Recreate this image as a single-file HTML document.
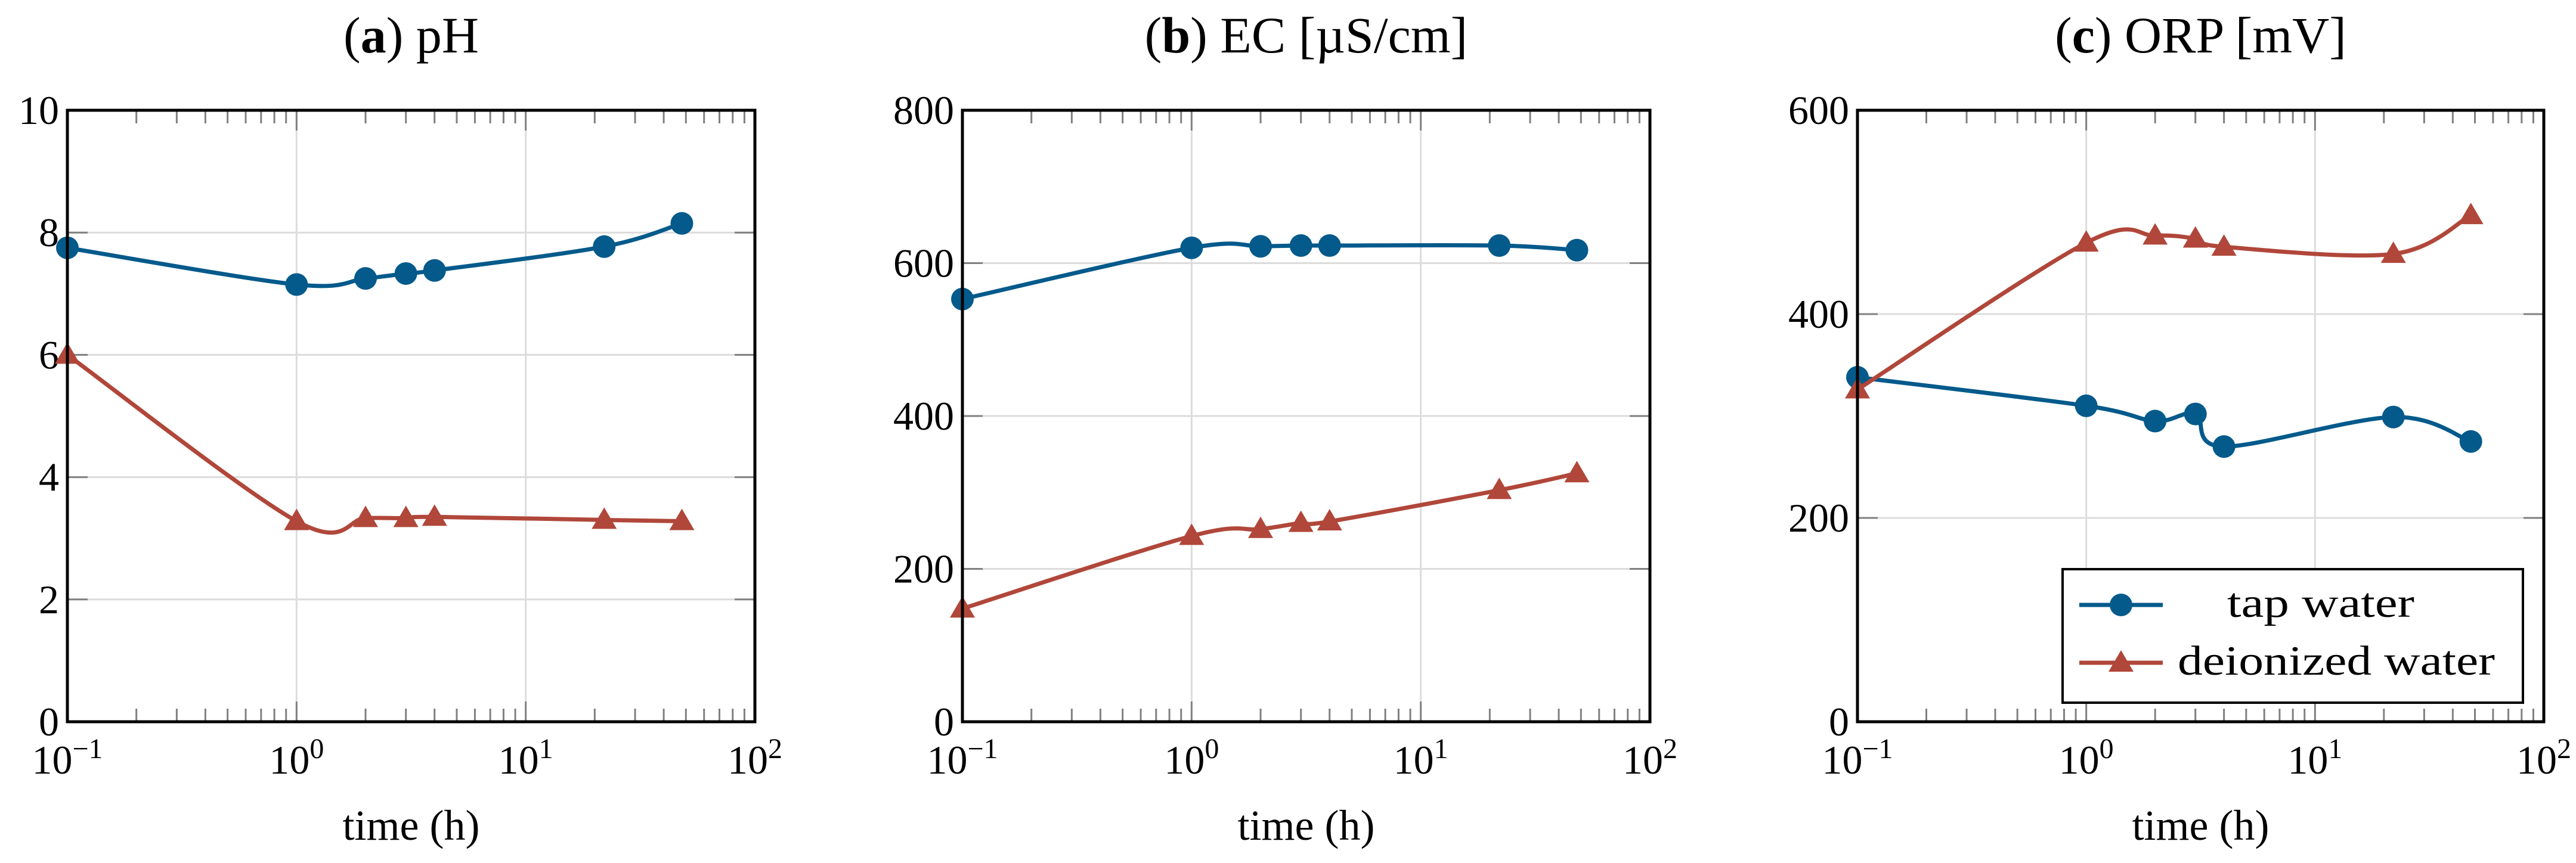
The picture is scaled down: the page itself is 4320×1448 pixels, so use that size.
<!DOCTYPE html>
<html><head><meta charset="utf-8">
<style>
html,body{margin:0;padding:0;background:#fff;}
svg{display:block;font-family:"Liberation Serif",serif;}
</style></head>
<body>
<svg id="fig" width="4320" height="1448" viewBox="0 0 4320 1448" xmlns="http://www.w3.org/2000/svg"></svg>
<script>
const timeHours = [0.1, 1, 2, 3, 4, 22, 48];
const phTap = [7.75, 7.15, 7.25, 7.33, 7.38, 7.77, 8.15];
const phDeion = [6.0, 3.28, 3.33, 3.33, 3.35, 3.30, 3.28];
const ecTap = [553, 620, 622, 623, 623, 623, 617];
const ecDeion = [148, 243, 252, 260, 262, 303, 325];
const orpTap = [338, 310, 295, 302, 270, 299, 275];
const orpDeion = [326, 470, 477, 474, 466, 459, 497];
const phTicks = [0, 2, 4, 6, 8, 10];
const ecTicks = [0, 200, 400, 600, 800];
const orpTicks = [0, 200, 400, 600];
const xDecades = [-1, 0, 1, 2];
const panelTitles = [["a", " pH"], ["b", " EC [µS/cm]"], ["c", " ORP [mV]"]];

const NS = "http://www.w3.org/2000/svg";
const svg = document.getElementById("fig");
const BLUE = "#035a8b", RED = "#b0473a";
function mk(tag, attrs, parent) {
  const e = document.createElementNS(NS, tag);
  for (const k in attrs) e.setAttribute(k, attrs[k]);
  (parent || svg).appendChild(e);
  return e;
}
function spline(pts) {
  const t = 0.5;
  let d = "M" + pts[0][0] + "," + pts[0][1];
  for (let i = 0; i < pts.length - 1; i++) {
    const p0 = pts[i - 1] || pts[i], p1 = pts[i], p2 = pts[i + 1], p3 = pts[i + 2] || p2;
    const c1 = [p1[0] + (p2[0] - p0[0]) * t / 3, p1[1] + (p2[1] - p0[1]) * t / 3];
    const c2 = [p2[0] - (p3[0] - p1[0]) * t / 3, p2[1] - (p3[1] - p1[1]) * t / 3];
    d += " C" + c1 + " " + c2 + " " + p2;
  }
  return d;
}
function panel(idx, left, right, top, bottom, ymax, yTicks, tap, deion) {
  const g = mk("g", {});
  
  
  const xs = v => left + (Math.log10(v) + 1) / 3 * (right - left);
  const ys = v => bottom - v / ymax * (bottom - top);
  xDecades.slice(1, 3).forEach(d => {
    const l = mk("line", {x1: xs(Math.pow(10, d)), x2: xs(Math.pow(10, d)), y1: top, y2: bottom, stroke: "#dcdcdc", "stroke-width": 3}, g);
    
    
  });
  yTicks.forEach(v => {
    if (v > 0 && v < ymax) {
      const l = mk("line", {x1: left, x2: right, y1: ys(v), y2: ys(v), stroke: "#dcdcdc", "stroke-width": 3}, g);
      
      
      mk("line", {x1: left, x2: left + 34, y1: ys(v), y2: ys(v), stroke: "#808080", "stroke-width": 3}, g);
      mk("line", {x1: right - 34, x2: right, y1: ys(v), y2: ys(v), stroke: "#808080", "stroke-width": 3}, g);
    }
    const t = mk("text", {x: left - 14, y: ys(v) + 23, "text-anchor": "end", "font-size": 68}, g);
    t.textContent = v;
    
    
  });
  for (let d = -1; d < 2; d++) {
    for (let m = 2; m <= 9; m++) {
      const x = xs(m * Math.pow(10, d));
      mk("line", {x1: x, x2: x, y1: bottom, y2: bottom - 22, stroke: "#808080", "stroke-width": 3}, g);
      mk("line", {x1: x, x2: x, y1: top, y2: top + 22, stroke: "#808080", "stroke-width": 3}, g);
    }
  }
  xDecades.forEach(d => {
    const x = xs(Math.pow(10, d));
    mk("line", {x1: x, x2: x, y1: bottom, y2: bottom - 34, stroke: "#808080", "stroke-width": 3}, g);
    mk("line", {x1: x, x2: x, y1: top, y2: top + 34, stroke: "#808080", "stroke-width": 3}, g);
    const t = mk("text", {x: x, y: 1298, "text-anchor": "middle", "font-size": 68}, g);
    
    
    const a = mk("tspan", {}, t); a.textContent = "10";
    const b = mk("tspan", {dy: -26, "font-size": 48}, t); b.textContent = d < 0 ? "\u2212" + (-d) : String(d);
  });
  [[tap, BLUE, "circle", "tap-water"], [deion, RED, "tri", "deionized-water"]].forEach(s => {
    const pts = timeHours.map((t, i) => [xs(t), ys(s[0][i])]);
    const p = mk("path", {d: spline(pts), fill: "none", stroke: s[1], "stroke-width": 7}, g);
    
    
    pts.forEach(q => {
      let m;
      if (s[2] === "circle") m = mk("circle", {cx: q[0], cy: q[1], r: 19, fill: s[1]}, g);
      else m = mk("polygon", {points: (q[0]) + "," + (q[1] - 21) + " " + (q[0] - 21) + "," + (q[1] + 15) + " " + (q[0] + 21) + "," + (q[1] + 15), fill: s[1]}, g);
      
      
    });
  });
  const fr = mk("rect", {x: left, y: top, width: right - left, height: bottom - top, fill: "none", stroke: "#000", "stroke-width": 5}, g);
  
  
  const cx = (left + right) / 2;
  const tt = mk("text", {x: cx, y: 88, "text-anchor": "middle", "font-size": 86}, g);
  
  
  mk("tspan", {}, tt).textContent = "(";
  mk("tspan", {"font-weight": "bold"}, tt).textContent = panelTitles[idx][0];
  mk("tspan", {}, tt).textContent = ")" + panelTitles[idx][1];
  const xt = mk("text", {x: cx, y: 1409, "text-anchor": "middle", "font-size": 72}, g);
  xt.textContent = "time (h)";
  
  
}
panel(0, 113, 1266, 185, 1211, 10, phTicks, phTap, phDeion);
panel(1, 1614, 2767, 185, 1211, 800, ecTicks, ecTap, ecDeion);
panel(2, 3115, 4266, 185, 1211, 600, orpTicks, orpTap, orpDeion);
const lg = mk("g", {});


mk("rect", {x: 3459, y: 955, width: 772, height: 224, fill: "#fff", stroke: "#000", "stroke-width": 4}, lg);
const e1 = mk("g", {}, lg);


mk("line", {x1: 3487, x2: 3627, y1: 1015, y2: 1015, stroke: BLUE, "stroke-width": 7}, e1);
mk("circle", {cx: 3557, cy: 1015, r: 19, fill: BLUE}, e1);
const l1 = mk("text", {x: 3735, y: 1035, "font-size": 70, textLength: 314, lengthAdjust: "spacingAndGlyphs"}, e1);
l1.textContent = "tap water";
const e2 = mk("g", {}, lg);


mk("line", {x1: 3487, x2: 3627, y1: 1112, y2: 1112, stroke: RED, "stroke-width": 7}, e2);
mk("polygon", {points: "3557,1091 3536,1127 3578,1127", fill: RED}, e2);
const l2 = mk("text", {x: 3652, y: 1132, "font-size": 70, textLength: 532, lengthAdjust: "spacingAndGlyphs"}, e2);
l2.textContent = "deionized water";
</script>
</body></html>
